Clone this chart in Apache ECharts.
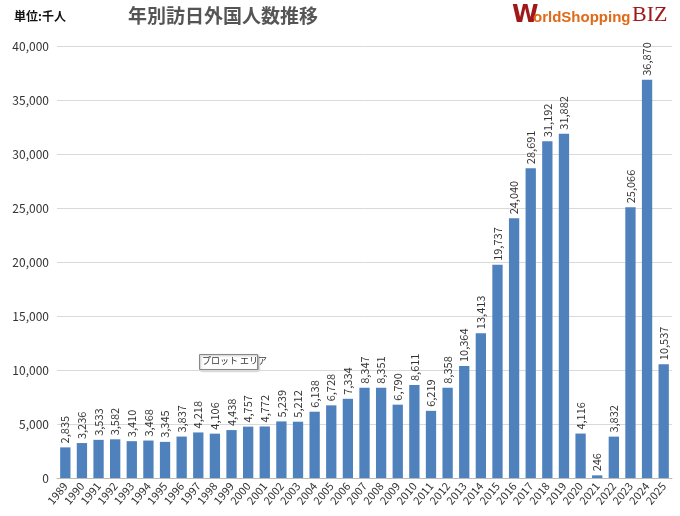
<!DOCTYPE html>
<html><head><meta charset="utf-8">
<script src="https://cdn.jsdelivr.net/npm/echarts@6/dist/echarts.min.js"></script>
<style>html,body{margin:0;padding:0;background:#fff}#c{width:680px;height:516px}</style>
</head><body><div id="c"></div>
<script>
const years = ['1989','1990','1991','1992','1993','1994','1995','1996','1997','1998','1999','2000','2001','2002','2003','2004','2005','2006','2007','2008','2009','2010','2011','2012','2013','2014','2015','2016','2017','2018','2019','2020','2021','2022','2023','2024','2025'];
const visitors = [2835,3236,3533,3582,3410,3468,3345,3837,4218,4106,4438,4757,4772,5239,5212,6138,6728,7334,8347,8351,6790,8611,6219,8358,10364,13413,19737,24040,28691,31192,31882,4116,246,3832,25066,36870,10537];

const chart = echarts.init(document.getElementById('c'));
const font = '"Noto Sans CJK JP", "Noto Sans", sans-serif';
chart.setOption({
  animation: false,
  textStyle: { fontFamily: font },
  grid: { left: 57, right: 8, top: 46, bottom: 38 },
  xAxis: {
    type: 'category', data: years,
    axisTick: { show: false },
    axisLine: { lineStyle: { color: '#bbb' } },
    axisLabel: { rotate: 50, interval: 0, color: '#333', fontSize: 11, margin: 6 }
  },
  yAxis: {
    type: 'value', min: 0, max: 40000, interval: 5000,
    axisLabel: { color: '#333', fontSize: 12, formatter: v => v.toLocaleString('en-US') },
    splitLine: { lineStyle: { color: '#d9d9d9' } }
  },
  series: [{
    type: 'bar', data: visitors, barWidth: '62%',
    itemStyle: { color: '#4f81bd' },
    label: {
      show: true, position: 'top', rotate: 90, align: 'left', verticalAlign: 'middle',
      distance: 4, fontSize: 11, color: '#333',
      formatter: p => p.value.toLocaleString('en-US')
    }
  }],
  graphic: [
    { type: 'text', left: 14, top: 10, style: { text: '単位:千人', font: 'bold 12px ' + font, fill: '#111' } },
    { type: 'text', left: 128, top: 6, style: { text: '年別訪日外国人数推移', font: 'bold 19px ' + font, fill: '#555' } },
    { type: 'text', left: 512, top: 4, style: { text: 'W', font: 'bold 24px "DejaVu Sans"', fill: '#a0191a' } },
    { type: 'text', left: 533, top: 10, style: { text: 'orldShopping', font: 'bold 15px "Liberation Sans"', fill: '#e06a17' } },
    { type: 'text', left: 632, top: 4, style: { text: 'BIZ', font: '22px "Liberation Serif"', fill: '#a0191a' } },
    { type: 'rect', left: 199, top: 354, shape: { width: 58, height: 15 }, style: { fill: '#fff', stroke: '#888', lineWidth: 1, shadowColor: 'rgba(0,0,0,0.3)', shadowBlur: 2, shadowOffsetX: 1, shadowOffsetY: 1 } },
    { type: 'text', left: 202, top: 356, style: { text: 'プロット エリア', font: '9px ' + font, fill: '#333' } }
  ]
});
</script></body></html>
